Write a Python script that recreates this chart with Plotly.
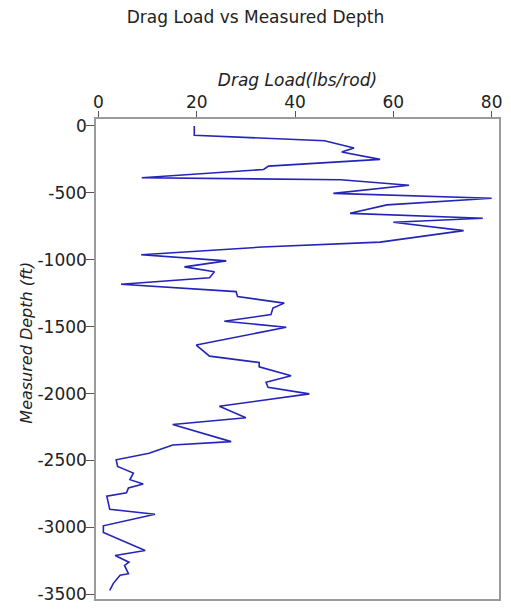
import plotly.graph_objects as go

# Drag load profile along the well (lbs/rod vs measured depth in ft)
drag_load = [
    19.5, 19.5, 46.0, 52.0, 49.5, 57.3, 34.6, 33.6, 8.8, 49.3,
    63.2, 47.8, 80.0, 58.7, 51.2, 78.2, 60.0, 74.3, 57.3, 33.3,
    8.7, 26.0, 17.5, 23.6, 22.6, 4.6, 28.0, 28.3, 37.8, 35.5,
    35.1, 25.6, 38.2, 19.9, 22.6, 32.7, 32.7, 39.2, 34.1, 34.5,
    42.9, 24.6, 30.0, 15.1, 27.0, 15.1, 10.3, 3.6, 3.9, 7.1,
    6.4, 9.1, 6.1, 5.7, 1.7, 2.3, 11.5, 1.0, 1.0, 9.5,
    3.4, 6.2, 5.3, 6.1, 4.4, 3.0, 2.3,
]
measured_depth = [
    0, -70, -110, -165, -195, -250, -300, -325, -387, -402,
    -443, -504, -540, -590, -653, -690, -720, -782, -868, -905,
    -962, -1008, -1053, -1090, -1134, -1183, -1238, -1275, -1324, -1361,
    -1410, -1459, -1504, -1637, -1720, -1768, -1800, -1866, -1916, -1953,
    -2002, -2095, -2180, -2231, -2359, -2384, -2446, -2495, -2544, -2594,
    -2643, -2675, -2705, -2742, -2766, -2865, -2902, -2988, -3038, -3173,
    -3210, -3260, -3284, -3346, -3358, -3420, -3470,
]

x_ticks = [0, 20, 40, 60, 80]
y_ticks = [0, -500, -1000, -1500, -2000, -2500, -3000, -3500]
y_tick_text = [str(v) for v in y_ticks]

font_family = "DejaVu Sans, Verdana, sans-serif"
text_color = "#222222"
frame_color = "#9a9a9a"

W, H = 511, 612
M_L, M_R, M_T, M_B = 96, 12, 119, 8

fig = go.Figure(
    go.Scatter(
        x=drag_load,
        y=measured_depth,
        mode="lines",
        line=dict(color="#2424b8", width=1.6),
        hoverinfo="x+y",
    )
)

fig.update_layout(
    width=W,
    height=H,
    margin=dict(l=M_L, r=M_R, t=M_T, b=M_B),
    paper_bgcolor="white",
    plot_bgcolor="white",
    showlegend=False,
    font=dict(family=font_family, color=text_color, size=17),
    title=dict(
        text="Drag Load vs Measured Depth",
        x=0.5,
        xanchor="center",
        y=1 - 17 / H,
        yanchor="middle",
        yref="container",
        font=dict(family=font_family, size=17, color=text_color),
    ),
)

fig.update_xaxes(
    side="top",
    range=[-0.5, 81.5],
    tickvals=x_ticks,
    ticks="outside",
    ticklen=6,
    ticklabelstandoff=-4,
    tickcolor="#555555",
    showgrid=False,
    zeroline=False,
    showline=True,
    linecolor=frame_color,
    linewidth=1.5,
    mirror=True,
    tickfont=dict(size=17),
    title=dict(
        text="<i>Drag Load(lbs/rod)</i>",
        font=dict(size=17),
        standoff=2,
    ),
)

fig.update_yaxes(
    range=[-3535, 52],
    tickvals=y_ticks,
    ticktext=y_tick_text,
    ticks="outside",
    ticklen=8,
    ticklabelstandoff=-4,
    tickcolor="#555555",
    showgrid=False,
    zeroline=False,
    showline=True,
    linecolor=frame_color,
    linewidth=1.5,
    mirror=True,
    tickfont=dict(size=17),
)

# Vertical axis title placed as an annotation so its centre can sit above the plot middle
plot_w = W - M_L - M_R
plot_h = H - M_T - M_B
fig.add_annotation(
    text="<i>Measured Depth (ft)</i>",
    textangle=-90,
    xref="paper",
    yref="paper",
    x=(27 - M_L) / plot_w,
    y=(H - M_B - 345) / plot_h,
    xanchor="center",
    yanchor="middle",
    showarrow=False,
    font=dict(family=font_family, size=16, color=text_color),
)

fig.write_html("out.html")
